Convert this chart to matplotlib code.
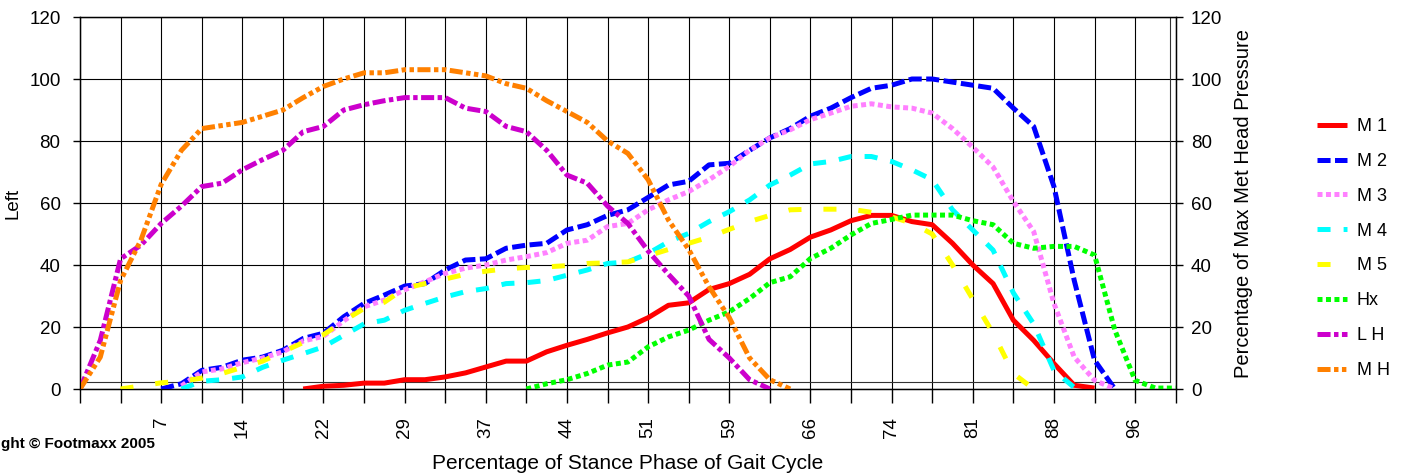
import numpy as np
import matplotlib
matplotlib.use("Agg")
import matplotlib.pyplot as plt

plt.rcParams['font.family'] = ['Liberation Sans', 'DejaVu Sans']
plt.rcParams['lines.scale_dashes'] = False

nan = np.nan

# ---- data -------------------------------------------------------------
# 55 samples across the stance phase (0..100 %), category positions 0..54
samples = np.arange(55)
tick_labels = ["7", "14", "22", "29", "37", "44", "51", "59", "66", "74", "81", "88", "96"]
series_names = ["M 1", "M 2", "M 3", "M 4", "M 5", "Hx", "L H", "M H"]

m1 = [nan] * 11 + [0, 0.9, 1.2, 1.9, 1.9, 3, 3, 3.9, 5.2, 7.1, 9, 9, 12, 14.1, 16, 18.1, 20,
                   23, 27, 27.8, 32.1, 34, 37, 42, 45, 49, 51.3, 54.3, 56, 56, 54, 53, 47, 40,
                   34, 22.2, 15.7, 8.2, 1.2, 0.3] + [nan] * 4
m2 = [nan] * 4 + [0, 1.7, 6, 7, 9.3, 10.3, 12.5, 16.3, 18, 23.3, 27.6, 30.3, 33.2, 34, 38.4,
                  41.6, 42, 45.4, 46.4, 47, 51.3, 53, 56, 57.8, 61.8, 65.8, 67, 72.3, 72.8, 77,
                  81, 84, 88, 90.6, 94, 97, 98, 100, 100, 99, 98, 97, 90.6, 84.7, 65.3, 35,
                  9.3, 0] + [nan] * 3
m3 = [nan] * 5 + [1, 5.5, 6.5, 8.5, 10, 12, 15.5, 17, 22, 26.5, 28.7, 32, 34.6, 37.3, 39, 40,
                  41.6, 42.7, 44, 47, 48, 52.4, 53.4, 57.8, 61, 63.7, 67.5, 71.8, 77, 81, 83.6,
                  86.9, 89, 91.2, 92, 91, 90.6, 89, 84, 78, 71.6, 60.5, 50.8, 27.6, 10.3, 2.8,
                  0] + [nan] * 3
m4 = [nan] * 5 + [0, 2.5, 3, 3.9, 7, 9.3, 11.4, 13.6, 17.3, 21, 22.2, 25.4, 27.6, 29.7, 31.4,
                  32.4, 34, 34.3, 35, 36.7, 38.4, 40.5, 41, 43.7, 47.5, 50.2, 54, 57.2, 61,
                  65.8, 69, 72.6, 73.4, 75, 75, 73.4, 70.7, 67.5, 57.8, 51.3, 44.8, 31, 21, 6,
                  0.5] + [nan] * 5
m5 = [nan] * 2 + [0, 1, 2, 2.5, 3.5, 5, 7, 9, 12, 15, 17.5, 22, 26, 28, 32.5, 34, 35.5, 37,
                  38, 38.8, 39.2, 39.4, 39.8, 40.5, 40.7, 41, 43, 45, 47, 49, 51.5, 54, 56, 57.8,
                  58, 58, 58, 57, 55.5, 53.5, 50, 40, 29, 18, 5, 0] + [nan] * 7
hx = [nan] * 22 + [0, 1.7, 3, 5, 7.7, 8.7, 13.6, 16.8, 19, 22.2, 24.9, 29.2, 34.3, 36.2, 42.1,
                   45.4, 49.7, 53.4, 54.7, 56.1, 56.1, 56.1, 54.3, 53, 47, 45.4, 46, 46, 43.2,
                   19, 2.8, 0.3, 0.3]
lh = [0, 15.7, 42, 46.4, 53.4, 59, 65.3, 66.4, 70.7, 74, 77, 83, 84.7, 90, 91.7, 93, 94, 94,
      94, 90.6, 89.5, 84.7, 83, 77, 69, 66.4, 59, 53.4, 44.5, 37, 30, 16, 10, 3, 0] + [nan] * 20
mh = [0, 10.3, 35, 48, 66, 77, 84, 85, 86, 88, 90, 94, 97.6, 100, 102, 102, 103, 103, 103,
      102, 101, 98.5, 97, 93, 89.5, 86, 80, 76, 67.5, 54.5, 45, 33, 23, 10, 3, 0] + [nan] * 19

series = [m1, m2, m3, m4, m5, hx, lh, mh]

# ---- styles -----------------------------------------------------------
colors = ["#FF0000", "#0000FF", "#FF80FF", "#00FFFF", "#FFFF00", "#00FF00", "#CC00CC", "#FF8000"]
dash_styles = [
    None,
    (9.4, 3.2),
    (3.6, 2.5),
    (9.4, 9.4),
    (9.4, 15.8),
    (3.6, 2.5),
    (9.4, 2.5, 3.2, 2.5),
    (9.4, 2.5, 3.2, 2.5, 3.2, 2.5),
]
LW = 3.6
FS = 13.5

fig = plt.figure(figsize=(14.04, 4.73), dpi=100)
fig.patch.set_facecolor("white")
W, H = 1404, 473
ax = fig.add_axes([80 / W, 1 - 389 / H, 1095.7 / W, 372 / H])

handles = []
for vals, name, col, ds in zip(series, series_names, colors, dash_styles):
    if ds is None:
        ln, = ax.plot(samples, vals, color=col, lw=LW, solid_joinstyle="round",
                      solid_capstyle="butt", label=name, zorder=3)
    else:
        ln, = ax.plot(samples, vals, color=col, lw=LW, dashes=ds, dash_capstyle="butt",
                      dash_joinstyle="round", label=name, zorder=3)
    handles.append(ln)

ax.set_xlim(0, 54)
ax.set_ylim(0, 120)

xt = np.arange(0, 55, 2)
ax.set_xticks(xt)
lab = [""] * len(xt)
for k, t in enumerate(tick_labels):
    lab[2 * (k + 1)] = t
ax.set_xticklabels(lab, rotation=90, fontsize=FS)
ax.tick_params(axis="x", direction="out", length=10, width=1, pad=10, color="black")
ax.set_yticks(np.arange(0, 121, 20))
ax.tick_params(axis="y", direction="out", length=5, width=1, pad=9, labelsize=FS)

ax.grid(True, color="black", lw=0.8, zorder=1)
ax.set_axisbelow(True)
for s in ax.spines.values():
    s.set_color("black")
    s.set_linewidth(1)

# inner plot-area frame of the original
ax.axhline(2.35, xmin=0, xmax=53.7 / 54, color="#333333", lw=0.8, zorder=1)
ax.axvline(53.7, ymin=2.35 / 120, ymax=1, color="#333333", lw=0.8, zorder=1)

ax2 = ax.twinx()
ax2.set_ylim(0, 120)
ax2.set_yticks(np.arange(0, 121, 20))
ax2.tick_params(axis="y", direction="out", length=5, width=1, pad=6, labelsize=FS)

ax.set_ylabel("Left", fontsize=FS)
ax.yaxis.set_label_coords((22 - 80) / 1095.7, 0.5)
ax2.set_ylabel("Percentage of Max Met Head Pressure", fontsize=14.5)
ax2.yaxis.set_label_coords((1234 - 80) / 1095.7, 0.5)
ax.set_xlabel("Percentage of Stance Phase of Gait Cycle", fontsize=15)
ax.xaxis.set_label_coords(0.5, (389 - 454) / 372)

leg = ax2.legend(handles=handles, labels=series_names, loc="upper left",
                 bbox_to_anchor=(1317 / W, 1 - 118 / H), bbox_transform=fig.transFigure,
                 frameon=False, fontsize=13, handlelength=21.6 / 13, handletextpad=0.55,
                 labelspacing=0.99, borderpad=0, borderaxespad=0)

# visible part of the (cropped) copyright note in the original
fig.text(155 / W, 1 - 444 / H, "ght \u00a9 Footmaxx 2005", ha="right", va="center",
         fontsize=11, fontweight="bold")

fig.savefig("out.png", dpi=100, facecolor="white")
